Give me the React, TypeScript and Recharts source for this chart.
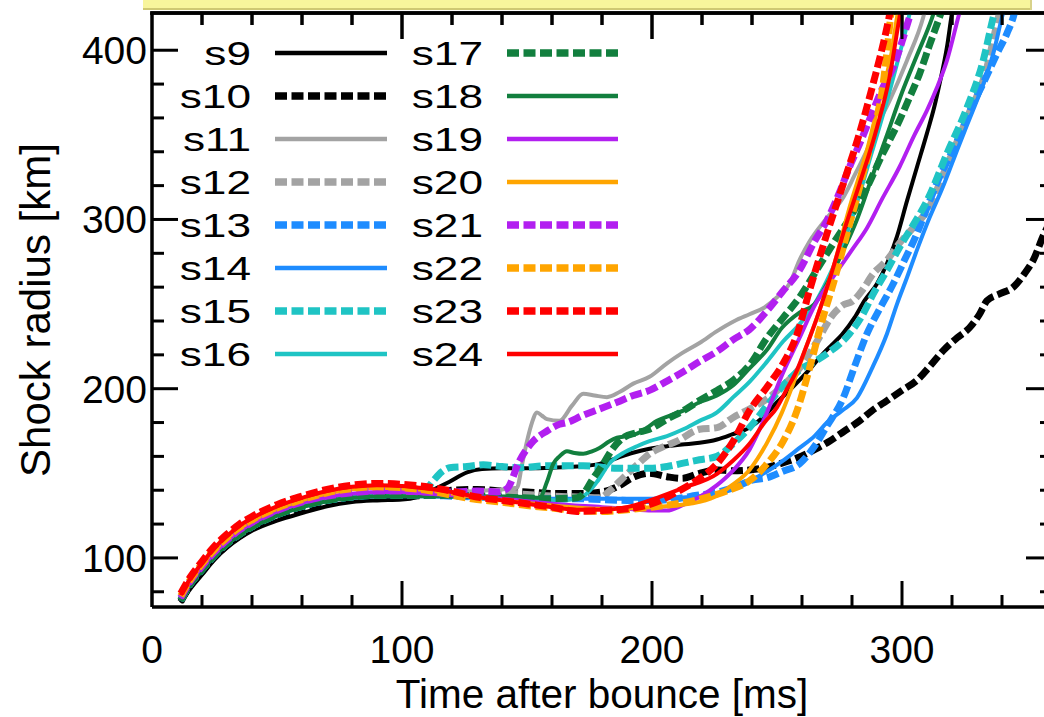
import React from 'react';
import { LineChart, Line, XAxis, YAxis } from 'recharts';

type Pt = [number, number];

// Shock radius [km] versus time after bounce [ms] for each progenitor model
const s9: Pt[] = [[11.5,73.5],[15,81],[20,90],[25,99],[30,106],[35,111.5],[40,116],[50,122],[60,126.5],[70,130.5],[80,133],[90,134],[100,134.5],[106,136],[112,140],[119,145],[126,150.5],[132,152.5],[140,153],[150,153],[160,153.3],[170,154],[179,155.6],[186,159],[192,162],[199,164.5],[206,166],[212,167],[219,168],[226,170],[232,173],[239,177],[245,184],[250,192],[255,199],[259,205],[264,213],[268,220],[272,226],[276,232],[281,242],[285,252],[290,262],[294,274],[298,290],[302,311],[306,331],[310,351],[313,367],[315,380],[318,402],[320,422],[321,430]];
const s10: Pt[] = [[11.5,74],[15,83],[20,92],[25,100.5],[30,107.5],[35,113],[40,117.5],[50,124],[60,129],[70,132.5],[80,135],[90,136],[100,136.5],[110,137],[120,140],[130,140.5],[140,139.5],[150,139],[160,138],[170,138],[180,139],[186,142],[193,148],[199,150],[206,148],[212,147],[219,150],[226,152],[232,151.5],[239,152],[246,153.5],[252,156],[258,159],[265,164],[271,169],[277,175],[283,181],[288,187],[294,193],[300,199],[306,205],[311,213],[316.5,222.5],[322,230],[327,236],[331,244],[334,252],[339,256],[344.5,260],[349,268],[352.5,276],[357,292],[360,300]];
const s11: Pt[] = [[11.5,75],[15,84],[20,93],[25,101.5],[30,108.5],[35,114],[40,118.5],[50,125.5],[60,130.5],[70,134],[80,136],[90,137],[100,137],[110,137],[120,138.5],[130,139.5],[140,140.5],[146,141.5],[148,155],[150,169],[152,180],[154,186],[156,184],[158,182],[163,181],[168,190],[172.5,197],[177,196],[182,195],[187,198],[192.5,203],[199,207],[206,215],[212,221],[219,227],[226,234],[233,240],[239,244],[245,248],[250,254],[255,262],[259,276],[263,287],[270,301],[276.5,313],[281,326],[286,341],[290,355],[295,370],[302,394],[308.5,419.5],[310,428]];
const s12: Pt[] = [[11.5,75.5],[15,84.5],[20,93.5],[25,102],[30,109],[35,114.5],[40,119],[50,126],[60,131],[70,134.5],[80,136.5],[90,137.5],[100,137.5],[110,137.5],[120,138],[130,139],[140,138.5],[150,137.5],[160,136.5],[170,136],[179,135.5],[184,141],[188.5,147.4],[194,155],[199,161.5],[205,166],[210,169],[219,176],[226,177],[232.5,183],[239,188],[246,194],[252.5,202],[259,212],[266,228],[272.5,244],[276,249],[280.5,252],[284,258],[288.5,268],[294,276],[299,286],[305,296],[310,305],[318,332],[326,360],[334,390],[338,416],[340,428]];
const s13: Pt[] = [[11.5,75],[15,84],[20,93],[25,101.5],[30,108.5],[35,114],[40,118.5],[50,125.5],[60,130.5],[70,134],[80,136],[90,137],[100,137],[110,137],[120,136.5],[130,136],[140,135.5],[150,135],[160,135],[170,135],[180,134.5],[190,134],[200,134],[210,135],[218,137],[223,138],[232.5,141.4],[240,146],[246,147.4],[252,151],[259,155.6],[265,166],[270,178],[276.5,194.6],[281,213],[286,232.5],[291,247],[296.5,262],[301,276],[306,291.7],[310,307],[315,325],[320,340],[324.5,354.4],[328,367],[332.5,380.5],[338,398],[342,410],[344.5,419.5],[346,428]];
const s14: Pt[] = [[11.5,74.5],[15,83.5],[20,92.5],[25,101],[30,108],[35,113.5],[40,118],[50,125],[60,130],[70,133.5],[80,135.5],[90,136.5],[100,136.5],[110,136.5],[120,136],[140,135],[160,135],[180,135],[200,135],[215,136],[226,138],[232,141],[239,145.6],[246,151],[252,157],[259,165],[265,172],[270,180],[276,187],[282,194.6],[288,212],[294,232.5],[298,250],[302,265.7],[306,282],[311,301],[316,318],[320.5,335],[325,352],[330,370.4],[334,386],[336.5,398],[340,419.5],[341,425]];
const s15: Pt[] = [[11.5,75],[15,84],[20,93],[25,101.5],[30,108.5],[35,114],[40,118.5],[50,125.5],[60,130.5],[70,134],[80,136],[90,137],[100,137],[106,138],[110,141],[112.5,145.6],[116,151],[119,153.3],[126,154],[132.5,155],[140,154],[146,153.3],[159,154.5],[172.5,154.5],[186,153],[199,153],[206,154],[212.5,156],[219,158],[226,160],[232.5,167.5],[239,177],[246,190],[252,201],[259,211],[265,216],[270,220.7],[279,232.5],[284,243],[288.5,256],[294,270],[299,283.5],[305,298],[310,311],[318,339],[326,366],[332.5,394],[336.5,419.5],[338,428]];
const s16: Pt[] = [[11.5,75.5],[15,84.5],[20,93.5],[25,102],[30,109],[35,114.5],[40,119],[50,126],[60,131],[70,134.5],[80,136.5],[90,137.5],[100,137.5],[110,137],[130,136],[150,135],[165,134],[172,136],[178,145],[183,156],[188.5,162],[194,166],[199,169],[206,172],[212.5,176],[219,181],[226,186],[232.5,195],[239,204],[246,216],[252.5,228],[259,238],[265,250],[270,264],[276,284],[282,310],[288,340],[293,365],[298,392],[302,415],[304,428]];
const s17: Pt[] = [[11.5,75],[15,84],[20,93],[25,101.5],[30,108.5],[35,114],[40,118.5],[50,125.5],[60,130.5],[70,134],[80,136],[90,137],[100,137],[110,137],[120,137],[140,136],[160,135],[170,135.5],[172.5,137.9],[176,146],[180.5,155.6],[184,164],[188.5,171],[194,174],[199,176],[206,182],[212.5,187],[219,193],[226,199],[232.5,205],[239,214],[246,230],[252.5,242],[259,254],[265,268],[272.5,285.8],[280,303],[286,319],[292,338],[299,358.6],[303,372],[307,386],[311,403],[315,419.5],[317,428]];
const s18: Pt[] = [[11.5,74.5],[15,83.5],[20,92.5],[25,101],[30,108],[35,113.5],[40,118],[50,125],[60,130],[70,133.5],[80,135.5],[90,136.5],[100,136.5],[110,136.5],[130,136.5],[150,136],[155,135.5],[158,145],[160.5,155.6],[163,160],[166,163],[169,162],[172.5,161.5],[176,163],[179,165],[183,169],[186,171],[190,172],[194,173.4],[198,177],[202,181],[207,184],[212.5,187],[219,192],[226,196],[232.5,202],[239,212],[246,223],[252,236],[259,245],[265,250],[270,262],[276,280],[282,300],[288,325],[294,350],[300,375],[306,397],[312,419],[314,428]];
const s19: Pt[] = [[11.5,76],[15,85],[20,94.5],[25,103],[30,110],[35,116],[40,120.5],[50,127.5],[60,132.5],[70,136],[80,138],[90,139],[100,139],[110,138],[120,137],[140,135],[160,132],[180,130],[190,129],[200,128],[206,128],[212,131],[219,136],[226,143],[232,151],[239,164],[246,186],[252,208],[259,230],[265,249],[272.5,266],[280,282],[286,295],[292,312],[299,331],[305,350],[310,364.5],[314,378],[318,394],[322.5,419.5],[324,428]];
const s20: Pt[] = [[11.5,77],[15,86],[20,96],[25,104.5],[30,111.5],[35,117.5],[40,122],[50,129],[60,134],[70,138],[80,140.5],[90,141.5],[100,141],[110,140],[120,138],[140,134],[160,131],[180,129],[200,130],[215,132],[225,136],[232,143],[239,152],[246,168],[252,186],[256.5,203],[261,222],[266,242],[272.5,271.6],[279,307],[286,341],[291,370],[296,400],[298,419.5],[299.5,430]];
const s21: Pt[] = [[11.5,76.5],[15,85.5],[20,95],[25,103.5],[30,110.5],[35,116.5],[40,121],[50,128],[60,133],[70,136.5],[80,138.5],[90,139.5],[100,139.5],[110,139],[120,139],[130,139.5],[138,139],[142,141],[147,157.4],[152.5,169],[158,175],[163,179],[166,180],[172,184],[179,188],[186,192],[192.5,196],[199,199],[206,204.5],[212.5,210],[219,216],[226,222],[232.5,229],[239,235],[246,246],[252,257],[259,270],[265,287],[270,299.4],[275,316],[279,331],[284,348],[288.5,364.5],[292,377],[296.5,390],[300,405],[303,419.5],[305,428]];
const s22: Pt[] = [[11.5,77.5],[15,86.5],[20,96.5],[25,105],[30,112],[35,118],[40,122.5],[50,129.5],[60,134.5],[70,138.5],[80,141],[90,142],[100,141.5],[110,140],[120,137],[130,134.5],[140,133],[150,131],[160,129.5],[170,128],[180,127.5],[190,128.5],[200,130],[210,132],[220,135],[230,139.6],[239,145.6],[246,155.6],[252.5,169],[258,187],[263,212],[268,240],[272.5,262],[278,291.7],[283,319],[288.5,351],[292.5,380.5],[295,413.6],[296,428]];
const s23: Pt[] = [[11.5,79],[15,88],[20,98],[25,107],[30,114],[35,120],[40,124.5],[50,131.5],[60,136.5],[70,140.5],[80,143],[90,144],[100,143.5],[110,142],[120,139.5],[130,136],[140,134],[150,132],[160,130],[170,127.5],[180,128],[190,129],[200,132],[210,139],[218,146],[226,155.6],[232.5,169],[239,187],[246,201],[252.5,215],[258,232],[263,258],[270,291.7],[276.5,321],[283,351],[288.5,380.5],[294,413.6],[296,428]];
const s24: Pt[] = [[11.5,78],[15,87],[20,97],[25,106],[30,113],[35,119],[40,123.5],[50,130.5],[60,135.5],[70,139.5],[80,142],[90,143],[100,142.5],[110,141],[120,139],[130,136],[140,134],[150,132],[160,130],[170,128.5],[180,128.5],[190,130],[202,135.5],[212.5,141.4],[226,149.7],[232,157],[239,167.5],[245,180],[250,189],[254,200],[258,211],[262,226],[266,242],[272.5,271.6],[276.5,291.7],[283,321],[290,354.4],[295,384],[299,419.5],[300,428]];

const seriesPoints: Pt[][] = [s9, s10, s11, s12, s13, s14, s15, s16, s17, s18, s19, s20, s21, s22, s23, s24];
const seriesNames = ['s9','s10','s11','s12','s13','s14','s15','s16','s17','s18','s19','s20','s21','s22','s23','s24'];
const seriesColors = ['#000000','#000000','#a3a3a3','#a3a3a3','#1e8cff','#1e8cff','#1fc4c4','#1fc4c4','#127f3e','#127f3e','#b21ff0','#ffa500','#b21ff0','#ffa500','#ff0000','#ff0000'];
const seriesDashed = [false,true,false,true,true,false,true,false,true,false,false,false,true,true,true,false];

const xTicks = [0,20,40,60,80,100,120,140,160,180,200,220,240,260,280,300,320,340];
const yTicks = [80,100,120,140,160,180,200,220,240,260,280,300,320,340,360,380,400];
const xDomain: [number, number] = [0, 360];
const yDomain: [number, number] = [71, 422];

const FONT = '"Liberation Sans", Arial, Helvetica, sans-serif';
const MAJOR = 26;
const MINOR = 12;
const TICK_W = 3;
const DASH = '12 4.5';

// plot box
const PLOT_LEFT = 152;
const PLOT_TOP = 13;
const PLOT_WIDTH = 900;

const rows = seriesPoints.map((pts) => pts.map(([t, r]) => ({ t, r })));
const toX = (v: number) => PLOT_LEFT + ((v - xDomain[0]) / (xDomain[1] - xDomain[0])) * PLOT_WIDTH;

function BottomTick({ x, y, payload }: any) {
  const v = payload.value as number;
  const major = v % 100 === 0;
  return (
    <g>
      {v !== 0 && <line x1={x} x2={x} y1={y} y2={y - (major ? MAJOR : MINOR)} stroke="#000" strokeWidth={TICK_W} />}
      {major && (
        <text x={x} y={y + 56} textAnchor="middle" fontFamily={FONT} fontSize={39} fill="#000">{v}</text>
      )}
    </g>
  );
}

function LeftTick({ x, y, payload }: any) {
  const v = payload.value as number;
  const major = v % 100 === 0;
  return (
    <g>
      <line x1={x} x2={x + (major ? MAJOR : MINOR)} y1={y} y2={y} stroke="#000" strokeWidth={TICK_W} />
      {major && (
        <text x={x - 5} y={y + 14} textAnchor="end" fontFamily={FONT} fontSize={39} fill="#000">{v}</text>
      )}
    </g>
  );
}

function RightTick({ x, y, payload }: any) {
  const v = payload.value as number;
  const major = v % 100 === 0;
  return <line x1={x} x2={x - (major ? MAJOR : MINOR)} y1={y} y2={y} stroke="#000" strokeWidth={TICK_W} />;
}

function XTitle(props: any) {
  const vb = props.viewBox;
  return (
    <text x={vb.x + vb.width / 2} y={vb.y + 101} textAnchor="middle" fontFamily={FONT} fontSize={40.5} fill="#000">
      Time after bounce [ms]
    </text>
  );
}

function YTitle(props: any) {
  const vb = props.viewBox;
  const cx = vb.x + vb.width - 102;
  const cy = vb.y + vb.height / 2;
  return (
    <text x={cx} y={cy} transform={`rotate(-90, ${cx}, ${cy})`} textAnchor="middle" fontFamily={FONT} fontSize={42} fill="#000">
      Shock radius [km]
    </text>
  );
}

// upper frame edge with inward ticks mirroring the time axis
function TopFrameMarks() {
  return (
    <g className="top-frame">
      <line x1={PLOT_LEFT - 1.75} x2={PLOT_LEFT + PLOT_WIDTH} y1={PLOT_TOP} y2={PLOT_TOP} stroke="#000" strokeWidth={3.5} />
      {xTicks.filter((v) => v > 0).map((v) => (
        <line
          key={v}
          x1={toX(v)}
          x2={toX(v)}
          y1={PLOT_TOP}
          y2={PLOT_TOP + (v % 100 === 0 ? MAJOR : MINOR)}
          stroke="#000"
          strokeWidth={TICK_W}
        />
      ))}
    </g>
  );
}

// Two-column key drawn inside the upper-left part of the plot
function KeyBlock() {
  const colText = [251, 483];
  const colLine = [[275, 387], [507, 618]];
  return (
    <g className="series-key">
      {seriesNames.map((name, i) => {
        const col = i < 8 ? 0 : 1;
        const row = i % 8;
        const cy = 53 + row * 43;
        const dashed = seriesDashed[i];
        return (
          <g key={name}>
            <text
              transform={`translate(${colText[col]}, ${cy + 12}) scale(1.3, 1)`}
              textAnchor="end"
              fontFamily={FONT}
              fontSize={34}
              fill="#000"
            >
              {name}
            </text>
            <line
              x1={colLine[col][0]}
              x2={colLine[col][1]}
              y1={cy}
              y2={cy}
              stroke={seriesColors[i]}
              strokeWidth={dashed ? 7.5 : 4.5}
              strokeDasharray={dashed ? DASH : undefined}
            />
          </g>
        );
      })}
    </g>
  );
}

const axisCommon = {
  interval: 0 as const,
  allowDataOverflow: true,
  tickSize: 0,
  tickMargin: 0,
  tickLine: false,
  axisLine: { stroke: '#000', strokeWidth: 3.5 },
};

export default function App() {
  return (
    <div style={{ position: 'fixed', left: 0, top: 0, width: 1044, height: 717, overflow: 'hidden', background: '#fff' }}>
      <div style={{ position: 'absolute', left: 0, top: 0, zIndex: 1 }}>
        <LineChart width={1060} height={717} margin={{ top: PLOT_TOP, right: 7, bottom: 109, left: PLOT_LEFT - 1 }}>
          <XAxis
            {...axisCommon}
            xAxisId="bottom"
            dataKey="t"
            type="number"
            domain={xDomain}
            ticks={xTicks}
            height={1}
            tick={<BottomTick />}
            label={XTitle}
          />
          <YAxis
            {...axisCommon}
            yAxisId="left"
            type="number"
            domain={yDomain}
            ticks={yTicks}
            width={1}
            tick={<LeftTick />}
            label={YTitle}
          />
          <YAxis
            {...axisCommon}
            yAxisId="right"
            orientation="right"
            type="number"
            domain={yDomain}
            ticks={yTicks}
            width={1}
            tick={<RightTick />}
          />
          {rows.map((data, i) => (
            <Line
              key={seriesNames[i]}
              name={seriesNames[i]}
              xAxisId="bottom"
              yAxisId="left"
              data={data}
              dataKey="r"
              type="monotone"
              stroke={seriesColors[i]}
              strokeWidth={seriesDashed[i] ? 7 : 4}
              strokeDasharray={seriesDashed[i] ? DASH : undefined}
              dot={false}
              activeDot={false}
              isAnimationActive={false}
            />
          ))}
          <TopFrameMarks />
          <KeyBlock />
        </LineChart>
      </div>
      {/* highlight strip and upper frame edge, layered above the plot */}
      <svg
        width={1044}
        height={60}
        style={{ position: 'absolute', left: 0, top: 0, zIndex: 2, pointerEvents: 'none', overflow: 'visible' }}
      >
        <rect x={143} y={0} width={887} height={8} fill="#f8f59c" />
        <rect x={143} y={8} width={887} height={2} fill="#cfc873" />
        <rect x={1030} y={0} width={2} height={10} fill="#d8d28a" />
        <TopFrameMarks />
      </svg>
    </div>
  );
}
